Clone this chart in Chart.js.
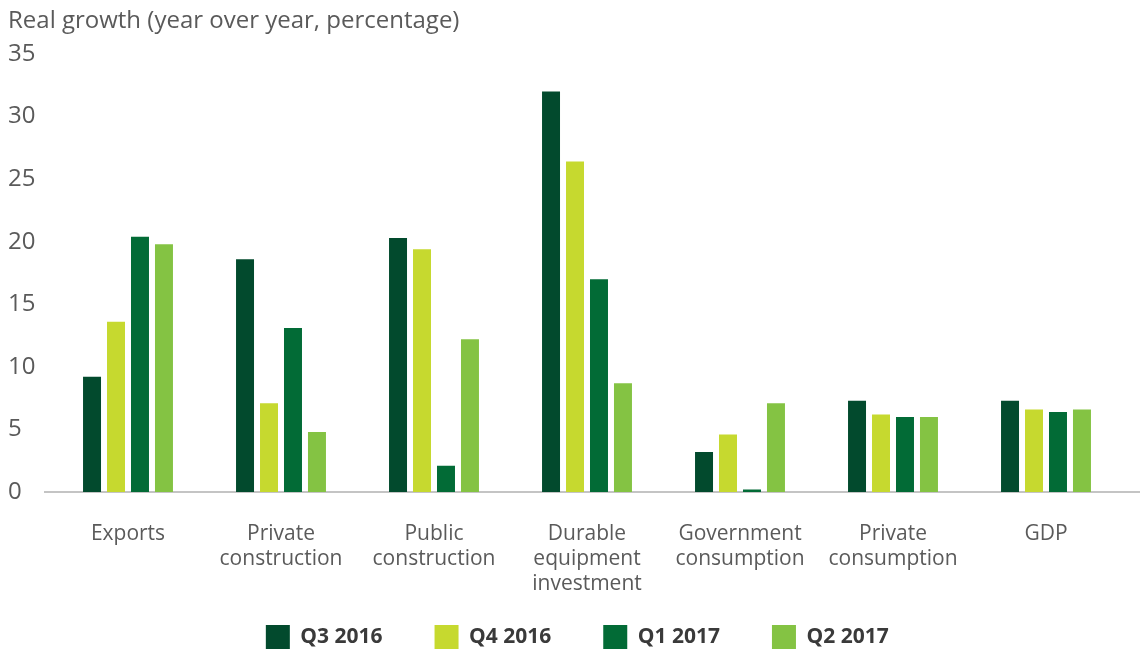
<!DOCTYPE html>
<html>
<head>
<meta charset="utf-8">
<script src="https://cdn.jsdelivr.net/npm/chart.js@4/dist/chart.umd.min.js"></script>
<style>
  html, body { margin: 0; padding: 0; background: #ffffff; }
  #wrap { width: 1140px; height: 650px; position: relative; }
</style>
</head>
<body>
<div id="wrap"><canvas id="c"></canvas></div>
<script>
const categories = [
  ["Exports"],
  ["Private", "construction"],
  ["Public", "construction"],
  ["Durable", "equipment", "investment"],
  ["Government", "consumption"],
  ["Private", "consumption"],
  ["GDP"]
];
const seriesNames = ["Q3 2016", "Q4 2016", "Q1 2017", "Q2 2017"];
const q3_2016 = [9.2, 18.6, 20.3, 32.0, 3.2, 7.3, 7.3];
const q4_2016 = [13.6, 7.1, 19.4, 26.4, 4.6, 6.2, 6.6];
const q1_2017 = [20.4, 13.1, 2.1, 17.0, 0.2, 6.0, 6.4];
const q2_2017 = [19.8, 4.8, 12.2, 8.7, 7.1, 6.0, 6.6];
const yTicks = [0, 5, 10, 15, 20, 25, 30, 35];
const axisTitle = "Real growth (year over year, percentage)";

const colors = ["#024A2D", "#C6D92F", "#026B36", "#84C343"];
const seriesValues = [q3_2016, q4_2016, q1_2017, q2_2017];

const FONT = "'Open Sans', 'Noto Sans', sans-serif";
const TEXT = "#5a5a5a";

const titlePlugin = {
  id: 'axisTitle',
  afterDraw(chart) {
    const ctx = chart.ctx;
    ctx.save();
    ctx.font = "24px " + FONT;
    ctx.fillStyle = TEXT;
    ctx.textBaseline = 'middle';
    ctx.textAlign = 'left';
    ctx.fillText(axisTitle, 8, 21);
    ctx.restore();
  }
};

const baselinePlugin = {
  id: 'baseline',
  beforeDatasetsDraw(chart) {
    const ctx = chart.ctx;
    const y = chart.scales.y.getPixelForValue(0);
    ctx.save();
    ctx.strokeStyle = "#c4c4c4";
    ctx.lineWidth = 2;
    ctx.beginPath();
    ctx.moveTo(44, y);
    ctx.lineTo(1140, y);
    ctx.stroke();
    ctx.restore();
  }
};

const legendShift = {
  id: 'legendShift',
  afterLayout(chart) {
    const lg = chart.legend;
    if (lg) {
      lg.left += 12;
      lg.right += 12;
      lg.top -= 24;
      lg.bottom -= 24;
    }
  }
};

new Chart(document.getElementById('c'), {
  type: 'bar',
  data: {
    labels: categories,
    datasets: seriesNames.map((name, i) => ({
      label: name,
      data: seriesValues[i],
      backgroundColor: colors[i],
      borderWidth: 0,
      categoryPercentage: 0.627,
      barPercentage: 0.75
    }))
  },
  options: {
    responsive: true,
    maintainAspectRatio: false,
    animation: false,
    layout: { padding: { left: 8, right: 17.5, top: 54, bottom: -33 } },
    plugins: {
      tooltip: { enabled: false },
      legend: {
        position: 'bottom',
        labels: {
          boxWidth: 24,
          boxHeight: 24,
          padding: 52,
          color: "#3a3a3a",
          font: { family: FONT, size: 21, weight: 'bold' }
        }
      }
    },
    scales: {
      x: {
        grid: { display: false },
        border: { display: false },
        ticks: {
          color: TEXT,
          font: { family: FONT, size: 21, lineHeight: 1.2 },
          padding: 21,
          maxRotation: 0,
          autoSkip: false
        },
        afterFit(scale) { scale.height = 105; }
      },
      y: {
        min: 0,
        max: 35,
        grid: { display: false },
        border: { display: false },
        afterBuildTicks(scale) { scale.ticks = yTicks.map(v => ({ value: v })); },
        ticks: {
          color: TEXT,
          font: { family: FONT, size: 24 },
          crossAlign: 'far',
          padding: 8
        },
        afterFit(scale) { scale.width = 43.5; }
      }
    }
  },
  plugins: [titlePlugin, baselinePlugin, legendShift]
});
</script>
</body>
</html>
